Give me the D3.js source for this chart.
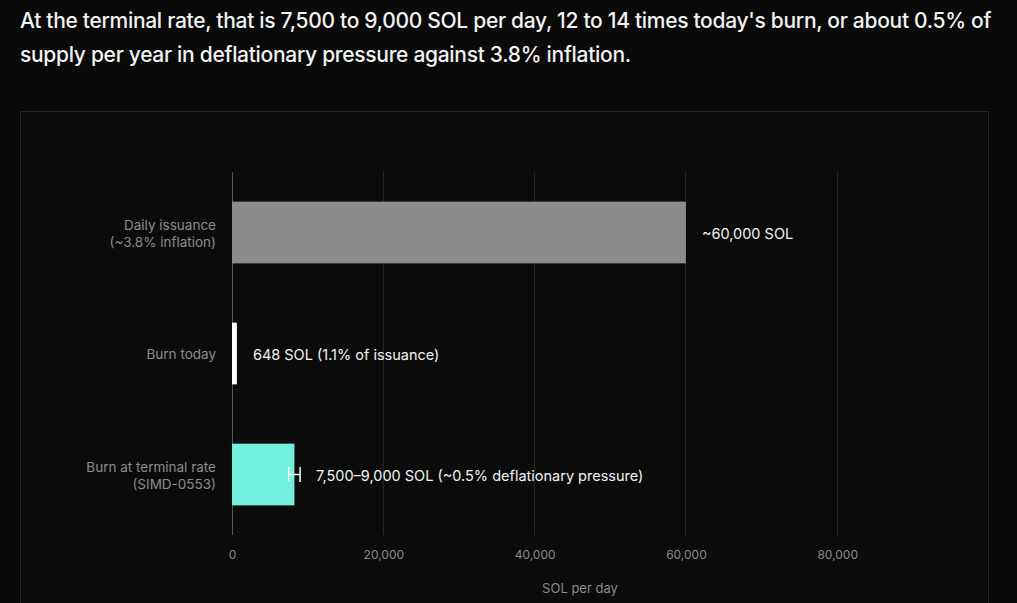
<!DOCTYPE html>
<html>
<head>
<meta charset="utf-8">
<script src="https://cdn.jsdelivr.net/npm/d3@7"></script>
<style>
  html, body { margin: 0; padding: 0; background: #0a0a0a; }
  body { width: 1017px; height: 603px; overflow: hidden; font-family: Inter, "Noto Sans", sans-serif; }
  .title {
    position: absolute; left: 20px; top: 4px; width: 992px;
    color: #f2f2f2; font-size: 21px; font-weight: 500; line-height: 34px; letter-spacing: -0.3px;
  }
</style>
</head>
<body>
<div class="title">At the terminal rate, that is 7,500 to 9,000 SOL per day, 12 to 14 times today's burn, or about 0.5% of supply per year in deflationary pressure against 3.8% inflation.</div>
<div class="chart"></div>
<script>
const categories = [
  ["Daily issuance", "(~3.8% inflation)"],
  ["Burn today"],
  ["Burn at terminal rate", "(SIMD-0553)"],
];
const values = [60000, 648, 8250];
const rangeLow = [null, null, 7500];
const rangeHigh = [null, null, 9000];
const valueLabels = ["~60,000 SOL", "648 SOL (1.1% of issuance)", "7,500\u20139,000 SOL (~0.5% deflationary pressure)"];
const barColors = ["#8c8c8c", "#ffffff", "#72f0dc"];
const xTicks = [0, 20000, 40000, 60000, 80000];
const xTitle = "SOL per day";

const W = 1017, H = 603;
const margin = { top: 172, left: 232, right: 89, bottom: 68 };
const width = W - margin.left - margin.right;
const height = H - margin.top - margin.bottom;

const svg = d3.select(".chart").append("svg")
  .attr("width", W).attr("height", H)
  .style("position", "absolute").style("left", 0).style("top", 0);

// panel
svg.append("rect")
  .attr("x", 20.5).attr("y", 111.5)
  .attr("width", 968).attr("height", 520)
  .attr("fill", "#0b0b0b").attr("stroke", "#262626");

const g = svg.append("g").attr("transform", `translate(${margin.left},${margin.top})`);

const x = d3.scaleLinear().domain([0, 92000]).range([0, width]);
const y = d3.scaleBand().domain(d3.range(categories.length)).range([0, height])
  .paddingInner(0.49).paddingOuter(0.245);

// gridlines
g.selectAll(".grid").data(xTicks).enter().append("line")
  .attr("x1", d => x(d)).attr("x2", d => x(d))
  .attr("y1", 0).attr("y2", height)
  .attr("stroke", d => d === 0 ? "#555" : "#262626")
  .attr("stroke-width", 1)
  .attr("shape-rendering", "crispEdges");

// x axis (labels only)
const xAxis = g.append("g").attr("transform", `translate(0,${height})`)
  .call(d3.axisBottom(x).tickValues(xTicks).tickSize(0).tickPadding(15).tickFormat(d3.format(",")));
xAxis.select(".domain").remove();
xAxis.selectAll("text").attr("fill", "#8a8a8a").attr("font-size", "12px")
  .attr("font-family", "Inter, sans-serif");

g.append("text")
  .attr("x", width / 2).attr("y", height + 58)
  .attr("text-anchor", "middle").attr("fill", "#8a8a8a")
  .attr("font-size", "13px").text(xTitle);

// bars
g.selectAll(".bar").data(values).enter().append("rect")
  .attr("x", x(0)).attr("y", (d, i) => y(i))
  .attr("width", d => x(d) - x(0)).attr("height", y.bandwidth())
  .attr("fill", (d, i) => barColors[i]);

// category labels
categories.forEach((lines, i) => {
  const cy = y(i) + y.bandwidth() / 2;
  const t = g.append("text")
    .attr("x", -16).attr("text-anchor", "end")
    .attr("fill", "#8c8c8c").attr("font-size", "13.5px");
  lines.forEach((line, j) => {
    t.append("tspan").attr("x", -16)
      .attr("y", cy + 1 + (j - (lines.length - 1) / 2) * 17)
      .attr("dy", "0.35em").text(line);
  });
});

// range markers
rangeLow.forEach((lo, i) => {
  if (lo == null) return;
  const hi = rangeHigh[i];
  const cy = y(i) + y.bandwidth() / 2;
  const e = g.append("g").attr("stroke", "#fff").attr("stroke-width", 1.5);
  e.append("line").attr("x1", x(lo)).attr("x2", x(hi)).attr("y1", cy).attr("y2", cy);
  [lo, hi].forEach(v => e.append("line")
    .attr("x1", x(v)).attr("x2", x(v)).attr("y1", cy - 7.5).attr("y2", cy + 7.5));
});

// value labels
valueLabels.forEach((label, i) => {
  const end = Math.max(x(values[i]), rangeHigh[i] != null ? x(rangeHigh[i]) : 0);
  g.append("text")
    .attr("x", end + 16).attr("y", y(i) + y.bandwidth() / 2 + 1.5)
    .attr("dy", "0.35em").attr("fill", "#f2f2f2")
    .attr("font-size", "14.5px").text(label);
});
</script>
</body>
</html>
